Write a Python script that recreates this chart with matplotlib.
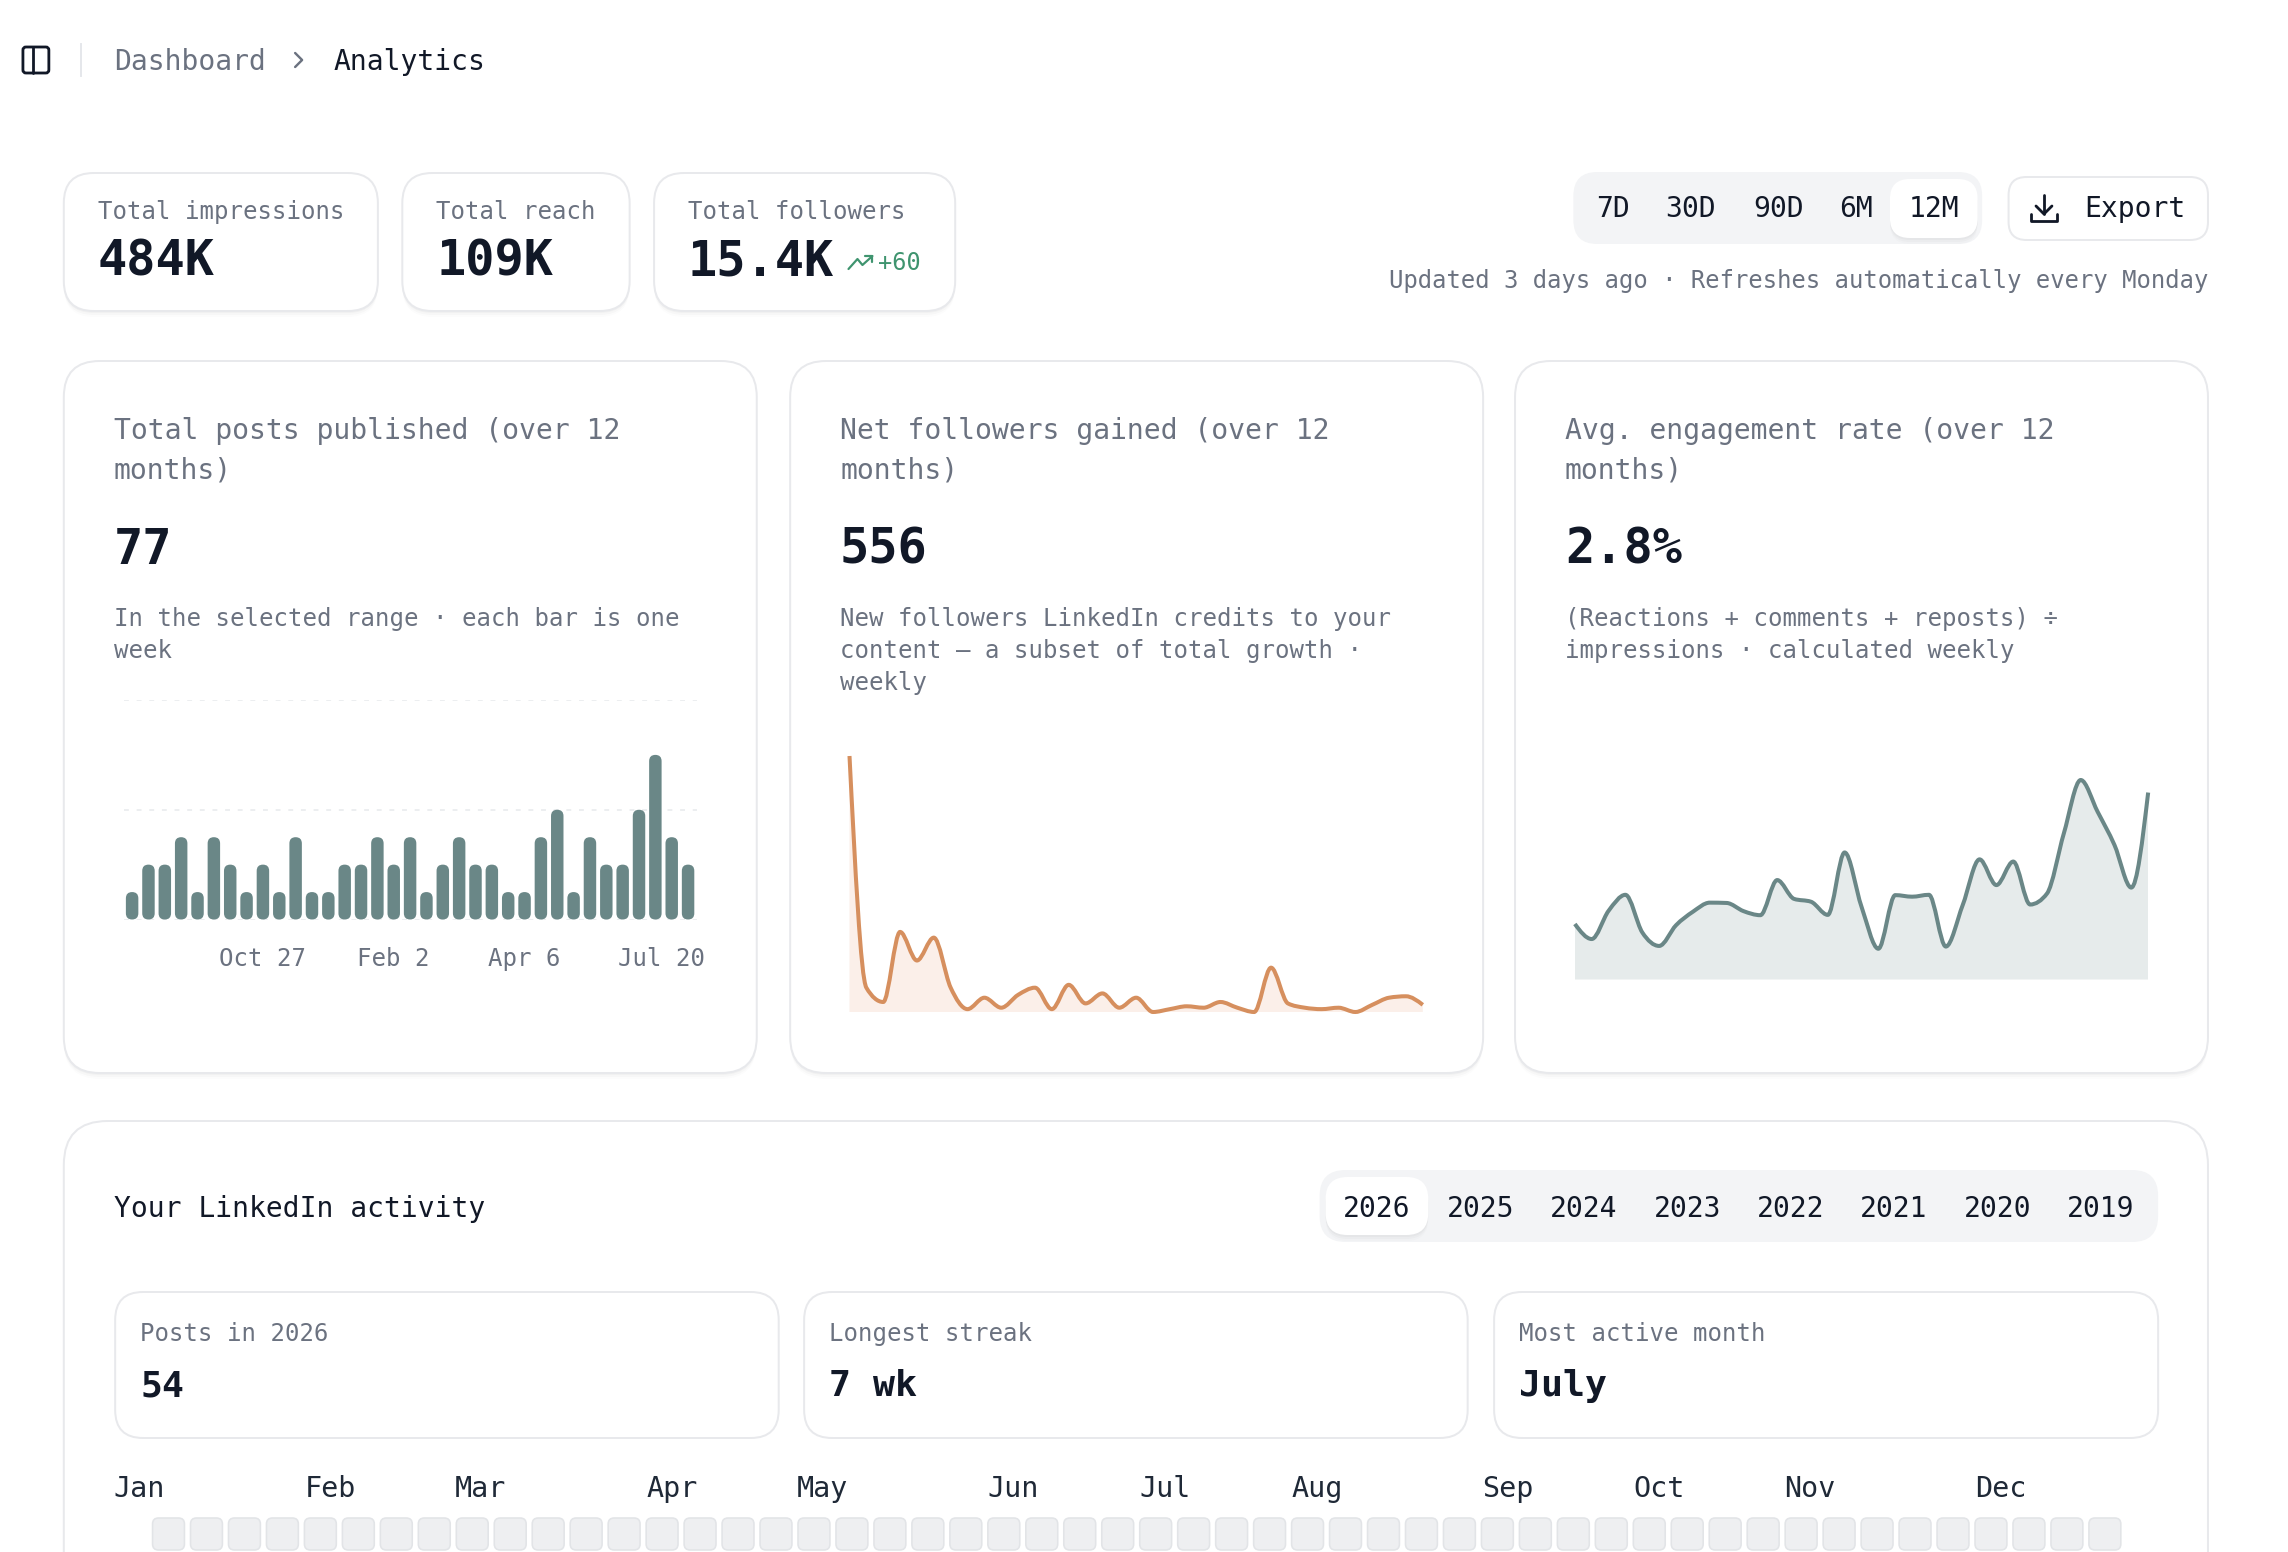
import numpy as np
import matplotlib
matplotlib.use("Agg")
import matplotlib.pyplot as plt
from matplotlib.patches import FancyBboxPatch, PathPatch
from matplotlib.path import Path

plt.rcParams['font.family'] = ['DejaVu Sans Mono']

# ---------- data ----------
stat_labels = ["Total impressions", "Total reach", "Total followers"]
stat_values = ["484K", "109K", "15.4K"]
follower_delta = "+60"
ranges = ["7D", "30D", "90D", "6M", "12M"]
years = ["2026", "2025", "2024", "2023", "2022", "2021", "2020", "2019"]
months = ["Jan", "Feb", "Mar", "Apr", "May", "Jun", "Jul", "Aug", "Sep", "Oct", "Nov", "Dec"]
posts_per_week = [1, 2, 2, 3, 1, 3, 2, 1, 2, 1, 3, 1, 1, 2, 2, 3, 2, 3, 1, 2, 3, 2, 2, 1, 1, 3, 4, 1, 3, 2, 2, 4, 6, 3, 2]
post_tick_labels = ["Oct 27", "Feb 2", "Apr 6", "Jul 20"]
post_tick_weeks = [8, 16, 24, 32.4]
followers_per_week = [179, 17, 7, 56, 36, 52, 17, 2, 10, 3, 12, 17, 2, 19, 6, 13, 3, 10, 0, 2, 4, 3, 7, 3, 0, 31, 6, 3, 2, 3, 0, 5, 10, 11, 5]
engagement_per_week = [1.77, 1.29, 2.19, 2.70, 1.50, 1.07, 1.73, 2.16, 2.45, 2.44, 2.18, 2.05, 3.17, 2.57, 2.48, 2.06, 4.05,
                       2.32, 0.98, 2.69, 2.64, 2.70, 1.05, 2.37, 3.83, 3.01, 3.76, 2.39, 2.74, 4.66, 6.36, 5.35, 4.29, 2.93, 5.96]
activity_first_row = [0] * 52

INK = "#111827"
GREY = "#6b7280"
BORDER = "#e8e9ec"
TEAL = "#6a8787"
ORANGE = "#d68f5e"

W, H = 2288, 1552
SX = 0.99706  # layout coordinates to pixels, horizontally
fig = plt.figure(figsize=(W / 100, H / 100), dpi=100, facecolor="white")
ui = fig.add_axes([0, 0, 1, 1], zorder=0)
ui.set_xlim(0, W / SX)
ui.set_ylim(H, 0)
ui.axis("off")


def text(x, cy, s, px, color=INK, weight="normal", ha="left"):
    ui.text(x, cy + 0.36 * px, s, fontsize=px * 0.72, color=color, fontweight=weight, ha=ha, va="baseline", zorder=10)


def box(x0, y0, x1, y1, r, fc="white", ec=BORDER, lw=2.0, shadow=False, z=1):
    if shadow:
        for off, a in ((2, 0.025), (4, 0.018), (6, 0.010)):
            ui.add_patch(FancyBboxPatch((x0, y0 + off), x1 - x0, y1 - y0, boxstyle=f"round,pad=0,rounding_size={r}",
                                        fc="black", ec="none", alpha=a, zorder=z))
    ui.add_patch(FancyBboxPatch((x0, y0), x1 - x0, y1 - y0, boxstyle=f"round,pad=0,rounding_size={r}",
                                fc=fc, ec=ec, lw=lw * 0.72, zorder=z + 0.1))


def stroke(xs, ys, color=INK, px=2.8):
    ui.plot(xs, ys, color=color, lw=px * 0.72, solid_capstyle="round", solid_joinstyle="round", zorder=5)


def monotone_verts(x, y):
    x = np.asarray(x, float)
    y = np.asarray(y, float)
    h = np.diff(x)
    s = np.diff(y) / h
    t = np.zeros_like(y)
    for i in range(1, len(y) - 1):
        p = (s[i - 1] * h[i] + s[i] * h[i - 1]) / (h[i - 1] + h[i])
        t[i] = (np.sign(s[i - 1]) + np.sign(s[i])) * min(abs(s[i - 1]), abs(s[i]), 0.5 * abs(p))
    t[0] = (3 * s[0] - t[1]) / 2
    t[-1] = (3 * s[-1] - t[-2]) / 2
    verts = [(x[0], y[0])]
    codes = [Path.MOVETO]
    for i in range(len(h)):
        verts += [(x[i] + h[i] / 3, y[i] + h[i] / 3 * t[i]),
                  (x[i + 1] - h[i] / 3, y[i + 1] - h[i] / 3 * t[i + 1]),
                  (x[i + 1], y[i + 1])]
        codes += [Path.CURVE4] * 3
    return verts, codes


def chart_axes(x0, y_top, x1, y_bottom):
    return fig.add_axes([x0 * SX / W, 1 - y_bottom / H, (x1 - x0) * SX / W, (y_bottom - y_top) / H], zorder=3, facecolor="none")


def area_chart(x0, y_top, x1, y_bottom, values, line, fill):
    ax = chart_axes(x0, y_top, x1, y_bottom)
    xs = np.arange(len(values))
    ax.set_xlim(0, len(values) - 1)
    ax.set_ylim(0, max(values))
    ax.axis("off")
    verts, codes = monotone_verts(xs, values)
    ax.add_patch(PathPatch(Path(verts + [(xs[-1], 0), (xs[0], 0), verts[0]],
                                codes + [Path.LINETO, Path.LINETO, Path.CLOSEPOLY]),
                           fc=fill, ec="none", zorder=1))
    ax.add_patch(PathPatch(Path(verts, codes), fill=False, ec=line, lw=2.9, capstyle="butt",
                           joinstyle="round", clip_on=False, zorder=2))
    return ax


# ---------- header ----------
box(23, 47, 49, 73, 3, fc="none", ec=INK, lw=2.8, z=4)
stroke([33, 33], [47, 73])
ui.plot([81, 81], [44, 76], color="#e5e7eb", lw=1.4)
text(114, 59.5, "Dashboard", 28, GREY)
stroke([296, 303, 296], [53, 60, 67], GREY, 2.4)
text(334, 59.5, "Analytics", 28, INK)

# ---------- stat cards ----------
for (x0, x1), label, value in zip([(64, 379), (403.5, 631.5), (656, 958)], stat_labels, stat_values):
    box(x0, 173, x1, 311, 30, shadow=True)
    text(x0 + 34, 210, label, 24, GREY)
    text(x0 + 34, 258, value, 48.6, INK, "bold")
text(881, 262, follower_delta, 23.6, "#3f946f")
stroke([851, 860, 865, 875], [269, 259, 265, 256], "#3f946f", 2.2)
stroke([868, 875, 875], [256, 256, 262], "#3f946f", 2.2)

# ---------- range pills + export ----------
box(1578, 172, 1988, 244, 24, fc="#f3f4f6", ec="none", lw=0)
box(1895.5, 179, 1983.5, 238, 20, fc="white", ec="none", lw=0, shadow=True, z=2)
for cx, label in zip([1617.5, 1695.5, 1783.5, 1861, 1939.5], ranges):
    text(cx, 207, label, 28, INK, ha="center")
box(2014.5, 177, 2214.5, 240, 18)
stroke([2050, 2050], [195, 214])
stroke([2042, 2050, 2058], [206, 214, 206])
stroke([2037, 2037, 2063, 2063], [214, 221, 221, 214])
text(2090.5, 207, "Export", 28, INK)
text(2214.5, 279, "Updated 3 days ago · Refreshes automatically every Monday", 23.85, GREY, ha="right")

# ---------- chart cards ----------
card_x = [(64, 759), (792.5, 1487.5), (1519.5, 2214.5)]
titles = [["Total posts published (over 12", "months)"],
          ["Net followers gained (over 12", "months)"],
          ["Avg. engagement rate (over 12", "months)"]]
big = ["77", "556", "2.8%"]
subs = [["In the selected range · each bar is one", "week"],
        ["New followers LinkedIn credits to your", "content — a subset of total growth ·", "weekly"],
        ["(Reactions + comments + reposts) ÷", "impressions · calculated weekly"]]
for (x0, x1), title, value, sub in zip(card_x, titles, big, subs):
    box(x0, 361, x1, 1073, 36, shadow=True)
    tx = x0 + 50
    for i, line in enumerate(title):
        text(tx, 429 + 39 * i, line, 28.1, GREY)
    text(tx, 546.5, value, 48.6, INK, "bold")
    for i, line in enumerate(sub):
        text(tx, 617.5 + 32 * i, line, 23.95, GREY)

# bars
axb = chart_axes(124, 700, 699, 919.5)
axb.set_xlim((124 - 132.5) / 16.4, (699 - 132.5) / 16.4)
axb.set_ylim(0, 8)
for s in axb.spines.values():
    s.set_visible(False)
axb.set_yticks([0, 4, 8])
axb.set_yticklabels([])
axb.grid(axis="y", color="#eceef0", lw=1.4, linestyle=(0, (2.5, 4)))
axb.set_axisbelow(True)
axb.tick_params(length=0)
axb.set_xticks(post_tick_weeks)
axb.set_xticklabels(post_tick_labels, fontsize=17.3, color=GREY)
axb.tick_params(axis="x", pad=20)
bar_w = 12.5 / 16.4
aspect = (8 / 219.5) / (1 / 16.4)
for i, v in enumerate(posts_per_week):
    axb.add_patch(FancyBboxPatch((i - bar_w / 2, 0), bar_w, v,
                                 boxstyle=f"round,pad=0,rounding_size={bar_w / 2}",
                                 mutation_aspect=aspect, fc=TEAL, ec="none", zorder=3))

area_chart(852, 756, 1427, 1012, followers_per_week, ORANGE, "#fbefe9")
area_chart(1579.5, 780, 2154.5, 979.5, engagement_per_week, TEAL, "#e6ebeb")

# ---------- activity card ----------
box(64, 1121, 2214.5, 1640, 44, shadow=True)
text(114, 1206.5, "Your LinkedIn activity", 28, INK)
box(1323.5, 1170, 2164.5, 1242, 26, fc="#f3f4f6", ec="none", lw=0, z=2)
box(1329.5, 1177, 1432.5, 1235, 22, fc="white", ec="none", lw=0, shadow=True, z=3)
for i, y in enumerate(years):
    text(1381 + 103.7 * i, 1206.5, y, 28, INK, ha="center")

for (x0, x1), label, value in zip([(115.5, 781), (806.5, 1472), (1498.5, 2164.5)],
                                  ["Posts in 2026", "Longest streak", "Most active month"],
                                  ["54", "7 wk", "July"]):
    box(x0, 1292, x1, 1438, 28, z=2)
    text(x0 + 25, 1332, label, 24, GREY)
    text(x0 + 25, 1383, value, 36.5, INK, "bold")

for x, m in zip([114, 306, 456, 648, 799, 990, 1142.5, 1295, 1486, 1638, 1789, 1981], months):
    text(x, 1486.5, m, 28.4, "#1f2937")

for i, v in enumerate(activity_first_row):
    x = 153 + 38.08 * i
    box(x, 1518, x + 32, 1550, 6, fc="#eeeff1", ec="#e2e4e7", lw=1.6, z=2)

fig.savefig("out.png", dpi=100, facecolor="white")
